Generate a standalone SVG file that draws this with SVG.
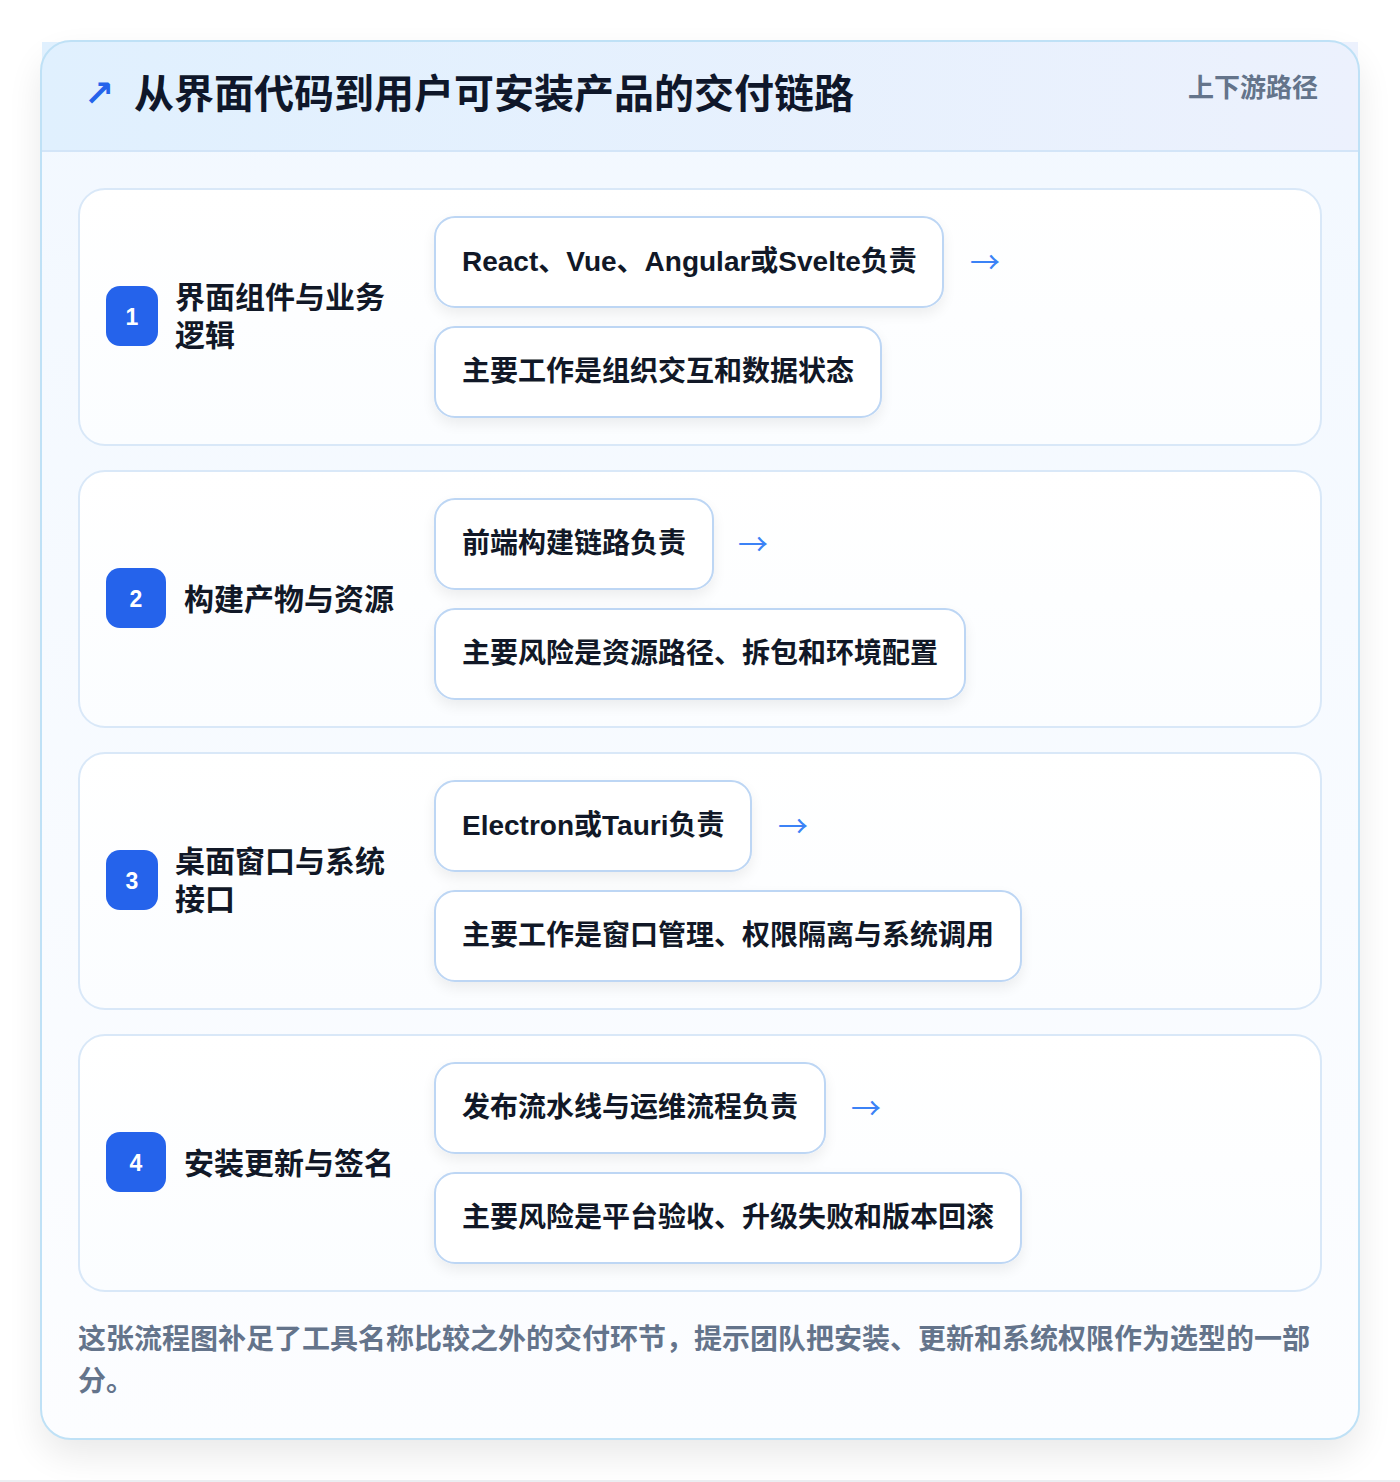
<svg xmlns="http://www.w3.org/2000/svg" width="1400" height="1482" viewBox="0 0 1400 1482">
  <defs>
    <linearGradient id="hdr" x1="0" y1="0" x2="1" y2="0">
      <stop offset="0" stop-color="#e0f0fe"/>
      <stop offset="1" stop-color="#ecf1fd"/>
    </linearGradient>
    <linearGradient id="body" x1="0" y1="0" x2="0" y2="1">
      <stop offset="0" stop-color="#f2f8ff"/>
      <stop offset="1" stop-color="#fcfdff"/>
    </linearGradient>
    <linearGradient id="stepfill" x1="0" y1="0" x2="0" y2="1">
      <stop offset="0" stop-color="#ffffff"/>
      <stop offset="1" stop-color="#fbfdff"/>
    </linearGradient>
    <filter id="cardShadow" x="-10%" y="-10%" width="120%" height="120%">
      <feGaussianBlur in="SourceAlpha" stdDeviation="18"/>
      <feOffset dy="16" result="b"/>
      <feComponentTransfer><feFuncA type="linear" slope="0.09"/></feComponentTransfer>
      <feMerge><feMergeNode/><feMergeNode in="SourceGraphic"/></feMerge>
    </filter>
    <filter id="chipShadow" x="-10%" y="-30%" width="120%" height="170%">
      <feGaussianBlur in="SourceAlpha" stdDeviation="7"/>
      <feOffset dy="6" result="b"/>
      <feComponentTransfer><feFuncA type="linear" slope="0.07"/></feComponentTransfer>
      <feMerge><feMergeNode/><feMergeNode in="SourceGraphic"/></feMerge>
    </filter>
  </defs>
  <style>
    .step { fill: url(#stepfill); stroke: #d9e8f8; stroke-width: 2; }
    .chip { fill: #ffffff; stroke: #bdd6f4; stroke-width: 2; }
    .badge { fill: #2563eb; }
    .bnum { font-family: "Liberation Sans", "Noto Sans CJK SC", sans-serif; font-size: 23px; font-weight: 700; fill: #ffffff; text-anchor: middle; }
    .stitle { font-family: "Liberation Sans", "Noto Sans CJK SC", sans-serif; font-size: 30px; font-weight: 700; fill: #111827; }
    .ctext { font-family: "Liberation Sans", "Noto Sans CJK SC", sans-serif; font-size: 28px; font-weight: 700; fill: #111827; }
    .arrow { font-family: "Noto Sans CJK SC", sans-serif; font-size: 30px; font-weight: 400; fill: #3b82f6; }
    .foot { font-family: "Liberation Sans", "Noto Sans CJK SC", sans-serif; font-size: 28px; font-weight: 700; fill: #64748b; }
  </style>

  <rect x="0" y="0" width="1400" height="1482" fill="#ffffff"/>
  <rect x="0" y="1480" width="1400" height="2" fill="#eceef2"/>

  <g id="card">
    <rect x="41" y="41" width="1318" height="1398" rx="30" fill="url(#body)" filter="url(#cardShadow)"/>
    <rect x="42" y="42" width="1316" height="109" fill="url(#hdr)"/>
    <line x1="42" y1="151" x2="1358" y2="151" stroke="#d3e5f8" stroke-width="2"/>
    <rect x="41" y="41" width="1318" height="1398" rx="30" fill="none" stroke="#bfe1f6" stroke-width="2"/>
  </g>

  <g id="header">
    <text x="84" y="106" font-family="DejaVu Sans, sans-serif" font-size="36" font-weight="700" fill="#2563eb">↗</text>
    <text x="134" y="108" font-family="Liberation Sans, Noto Sans CJK SC, sans-serif" font-size="40" font-weight="700" fill="#0f172a">从界面代码到用户可安装产品的交付链路</text>
    <text x="1318" y="97" text-anchor="end" font-family="Liberation Sans, Noto Sans CJK SC, sans-serif" font-size="26" font-weight="600" fill="#64748b">上下游路径</text>
  </g>

  <g id="step1">
    <rect class="step" x="79" y="189" width="1242" height="256" rx="26"/>
    <rect class="badge" x="106" y="286" width="52" height="60" rx="14"/>
    <text class="bnum" x="132" y="325">1</text>
    <text class="stitle" x="175" y="308">界面组件与业务</text>
    <text class="stitle" x="175" y="346">逻辑</text>
    <g filter="url(#chipShadow)">
      <rect class="chip" x="435" y="217" width="508" height="90" rx="20"/>
      <rect class="chip" x="435" y="327" width="446" height="90" rx="20"/>
    </g>
    <text class="ctext" x="462" y="271">React、Vue、Angular或Svelte负责</text>
    <text class="ctext" x="462" y="381">主要工作是组织交互和数据状态</text>
  </g>

  <g id="step2">
    <rect class="step" x="79" y="471" width="1242" height="256" rx="26"/>
    <rect class="badge" x="106" y="568" width="60" height="60" rx="14"/>
    <text class="bnum" x="136" y="607">2</text>
    <text class="stitle" x="184" y="610">构建产物与资源</text>
    <g filter="url(#chipShadow)">
      <rect class="chip" x="435" y="499" width="278" height="90" rx="20"/>
      <rect class="chip" x="435" y="609" width="530" height="90" rx="20"/>
    </g>
    <text class="ctext" x="462" y="553">前端构建链路负责</text>
    <text class="ctext" x="462" y="663">主要风险是资源路径、拆包和环境配置</text>
  </g>

  <g id="step3">
    <rect class="step" x="79" y="753" width="1242" height="256" rx="26"/>
    <rect class="badge" x="106" y="850" width="52" height="60" rx="14"/>
    <text class="bnum" x="132" y="889">3</text>
    <text class="stitle" x="175" y="872">桌面窗口与系统</text>
    <text class="stitle" x="175" y="910">接口</text>
    <g filter="url(#chipShadow)">
      <rect class="chip" x="435" y="781" width="316" height="90" rx="20"/>
      <rect class="chip" x="435" y="891" width="586" height="90" rx="20"/>
    </g>
    <text class="ctext" x="462" y="835">Electron或Tauri负责</text>
    <text class="ctext" x="462" y="945">主要工作是窗口管理、权限隔离与系统调用</text>
  </g>

  <g id="step4">
    <rect class="step" x="79" y="1035" width="1242" height="256" rx="26"/>
    <rect class="badge" x="106" y="1132" width="60" height="60" rx="14"/>
    <text class="bnum" x="136" y="1171">4</text>
    <text class="stitle" x="184" y="1174">安装更新与签名</text>
    <g filter="url(#chipShadow)">
      <rect class="chip" x="435" y="1063" width="390" height="90" rx="20"/>
      <rect class="chip" x="435" y="1173" width="586" height="90" rx="20"/>
    </g>
    <text class="ctext" x="462" y="1117">发布流水线与运维流程负责</text>
    <text class="ctext" x="462" y="1227">主要风险是平台验收、升级失败和版本回滚</text>
  </g>

  <g id="connectors">
    <text class="arrow" x="970" y="273">→</text>
    <text class="arrow" x="738" y="555">→</text>
    <text class="arrow" x="778" y="837">→</text>
    <text class="arrow" x="851" y="1119">→</text>
  </g>

  <g id="footer">
    <text class="foot" x="78" y="1349">这张流程图补足了工具名称比较之外的交付环节，提示团队把安装、更新和系统权限作为选型的一部</text>
    <text class="foot" x="78" y="1391">分。</text>
  </g>
</svg>
